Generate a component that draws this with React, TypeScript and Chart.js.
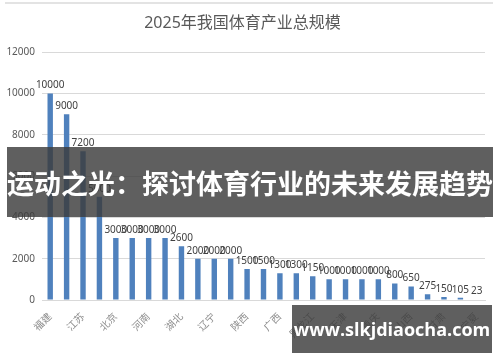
import React, { useEffect, useRef } from "react";
import { Chart, registerables } from "chart.js";

Chart.register(...registerables);

const title = "2025年我国体育产业总规模";
const categories = [
  "福建", "广东", "江苏", "山东", "北京", "上海", "河南", "四川", "湖北",
  "湖南", "辽宁", "安徽", "陕西", "河北", "广西", "云南", "黑龙江", "江西",
  "天津", "贵州", "重庆", "吉林", "山西", "内蒙古", "甘肃", "新疆", "宁夏",
];
const values = [
  10000, 9000, 7200, 5000, 3000, 3000, 3000, 3000, 2600, 2000, 2000, 2000,
  1500, 1500, 1300, 1300, 1150, 1000, 1000, 1000, 1000, 800, 650, 275, 150,
  105, 23,
];
const yTicks = [0, 2000, 4000, 6000, 8000, 10000, 12000];
const bannerText = "运动之光：探讨体育行业的未来发展趋势";
const watermarkText = "www.slkjdiaocha.com";

const FONT = "'Noto Sans', 'Noto Sans CJK SC', sans-serif";

const valueLabels = {
  id: "valueLabels",
  afterDatasetsDraw(chart: any) {
    const ctx = chart.ctx;
    const meta = chart.getDatasetMeta(0);
    ctx.save();
    ctx.font = `10px ${FONT}`;
    ctx.fillStyle = "#404040";
    ctx.textAlign = "center";
    ctx.textBaseline = "bottom";
    meta.data.forEach((bar: any, i: number) => {
      ctx.fillText(String(values[i]), bar.x, bar.y - 3);
    });
    ctx.restore();
  },
};

export default function App() {
  const ref = useRef<HTMLCanvasElement>(null);
  useEffect(() => {
    if (!ref.current) return;
    const chart = new Chart(ref.current, {
      type: "bar",
      data: {
        labels: categories,
        datasets: [
          {
            data: values,
            backgroundColor: "#4f81bd",
            barPercentage: 0.33,
            categoryPercentage: 1,
          },
        ],
      },
      options: {
        responsive: false,
        animation: false,
        devicePixelRatio: 1,
        layout: { padding: { left: 0, right: 15, top: 0, bottom: 0 } },
        plugins: {
          legend: { display: false },
          tooltip: { enabled: false },
          title: {
            display: true,
            text: title,
            color: "#595959",
            font: { size: 16, family: FONT, weight: "normal" as any },
            padding: { top: 14, bottom: 19 },
          },
        },
        scales: {
          x: {
            grid: { display: false },
            border: { color: "#d9d9d9" },
            ticks: {
              autoSkip: false,
              maxRotation: 45,
              minRotation: 45,
              color: "#8c8c8c",
              font: { size: 10, family: FONT },
              padding: 3,
              callback: (_v: any, i: number) => (i % 2 === 0 ? categories[i] : ""),
            },
            afterFit: (s: any) => {
              s.height = 62;
            },
          },
          y: {
            min: 0,
            max: 12000,
            afterBuildTicks: (s: any) => {
              s.ticks = yTicks.map((v) => ({ value: v }));
            },
            grid: { color: "#d9d9d9", drawTicks: false },
            border: { display: false },
            ticks: {
              color: "#595959",
              font: { size: 10, family: FONT },
              padding: 7,
              callback: (v: any) => String(v),
            },
            afterFit: (s: any) => {
              s.width = 42;
            },
          },
        },
      },
      plugins: [valueLabels],
    });
    return () => chart.destroy();
  }, []);

  return (
    <div style={{ position: "absolute", left: 0, top: 0, width: 500, height: 362, background: "#fff", overflow: "hidden" }}>
      <canvas ref={ref} width={500} height={362} style={{ position: "absolute", left: 0, top: 0 }} />
      <div style={{ position: "absolute", left: 5, top: 2, width: 488, height: 2, background: "#e3e3e3" }} />
      <div
        style={{
          position: "absolute",
          left: 7,
          top: 147,
          width: 486,
          height: 70,
          background: "rgba(60,60,60,0.82)",
          color: "#fff",
          fontFamily: "'Noto Sans CJK SC', sans-serif",
          fontWeight: 700,
          fontSize: 27,
          display: "flex",
          alignItems: "center",
          justifyContent: "center",
          whiteSpace: "nowrap",
        }}
      >
        {bannerText}
      </div>
      <div
        style={{
          position: "absolute",
          left: 292,
          top: 305,
          width: 200,
          height: 48,
          background: "rgba(60,60,60,0.82)",
          color: "#fff",
          fontFamily: "'Open Sans', 'Noto Sans', sans-serif",
          fontWeight: 700,
          fontSize: 18,
          display: "flex",
          alignItems: "center",
          justifyContent: "center",
          whiteSpace: "nowrap",
        }}
      >
        {watermarkText}
      </div>
    </div>
  );
}
